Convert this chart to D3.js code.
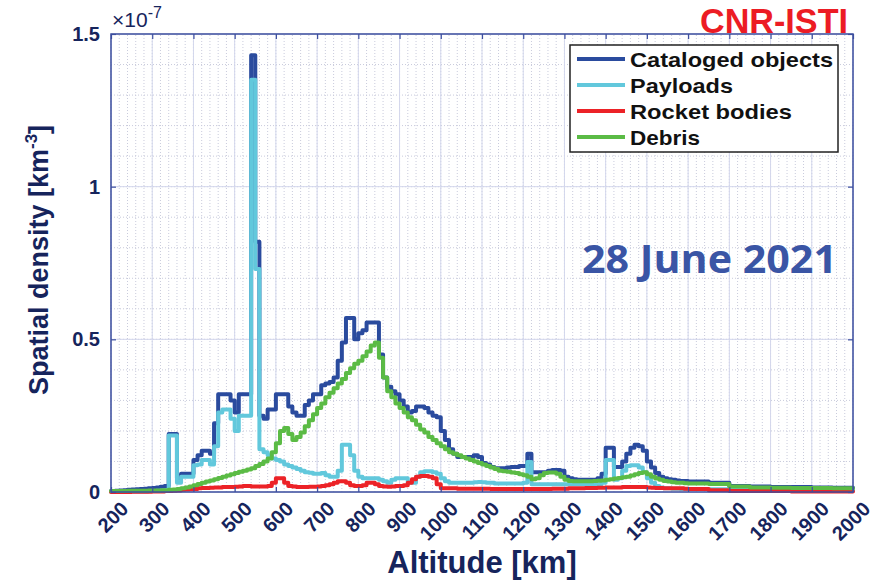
<!DOCTYPE html>
<html>
<head>
<meta charset="utf-8">
<script src="https://cdn.jsdelivr.net/npm/d3@7"></script>
<style>
body { margin: 0; background: #fff; }
svg { display: block; }
</style>
</head>
<body>
<div id="chart"></div>
<script>
// altitude bins [km] (left edge of each bin)
const altitude = [
  200, 210, 220, 230, 240, 250, 260, 270, 280, 290,
  300, 310, 320, 330, 340, 350, 360, 370, 380, 390,
  400, 410, 420, 430, 440, 450, 460, 470, 480, 490,
  500, 510, 520, 530, 540, 550, 560, 570, 580, 590,
  600, 610, 620, 630, 640, 650, 660, 670, 680, 690,
  700, 710, 720, 730, 740, 750, 760, 770, 780, 790,
  800, 810, 820, 830, 840, 850, 860, 870, 880, 890,
  900, 910, 920, 930, 940, 950, 960, 970, 980, 990,
  1000, 1010, 1020, 1030, 1040, 1050, 1060, 1070, 1080, 1090,
  1100, 1110, 1120, 1130, 1140, 1150, 1160, 1170, 1180, 1190,
  1200, 1210, 1220, 1230, 1240, 1250, 1260, 1270, 1280, 1290,
  1300, 1310, 1320, 1330, 1340, 1350, 1360, 1370, 1380, 1390,
  1400, 1410, 1420, 1430, 1440, 1450, 1460, 1470, 1480, 1490,
  1500, 1510, 1520, 1530, 1540, 1550, 1560, 1570, 1580, 1590,
  1600, 1650, 1700, 1750, 1800, 1850, 1900, 1950
];

// spatial density, units of 1e-7 km^-3
const cataloged = [
  0.003, 0.004, 0.005, 0.006, 0.007, 0.008, 0.009, 0.010, 0.011, 0.012,
  0.013, 0.015, 0.017, 0.020, 0.190, 0.190, 0.045, 0.060, 0.060, 0.060,
  0.105, 0.120, 0.135, 0.135, 0.125, 0.225, 0.320, 0.320, 0.320, 0.300,
  0.260, 0.320, 0.320, 0.320, 1.430, 0.820, 0.250, 0.240, 0.270, 0.270,
  0.320, 0.320, 0.320, 0.280, 0.260, 0.250, 0.250, 0.285, 0.300, 0.320,
  0.320, 0.350, 0.355, 0.360, 0.375, 0.430, 0.490, 0.570, 0.570, 0.500,
  0.520, 0.530, 0.555, 0.555, 0.555, 0.450, 0.375, 0.345, 0.330, 0.320,
  0.300, 0.280, 0.260, 0.265, 0.280, 0.280, 0.275, 0.260, 0.250, 0.245,
  0.200, 0.170, 0.140, 0.125, 0.115, 0.115, 0.115, 0.115, 0.120, 0.115,
  0.095, 0.090, 0.082, 0.078, 0.078, 0.078, 0.080, 0.082, 0.082, 0.085,
  0.085, 0.125, 0.065, 0.065, 0.065, 0.065, 0.070, 0.072, 0.072, 0.070,
  0.050, 0.045, 0.042, 0.040, 0.040, 0.040, 0.040, 0.040, 0.045, 0.060,
  0.145, 0.145, 0.082, 0.082, 0.100, 0.125, 0.145, 0.155, 0.150, 0.135,
  0.100, 0.080, 0.062, 0.050, 0.045, 0.042, 0.040, 0.038, 0.036, 0.036,
  0.034, 0.030, 0.020, 0.018, 0.016, 0.016, 0.015, 0.014
];

const payloads = [
  0.001, 0.001, 0.001, 0.001, 0.002, 0.002, 0.002, 0.002, 0.002, 0.003,
  0.003, 0.004, 0.005, 0.006, 0.185, 0.185, 0.030, 0.050, 0.050, 0.050,
  0.088, 0.090, 0.105, 0.105, 0.090, 0.150, 0.260, 0.270, 0.270, 0.240,
  0.200, 0.250, 0.250, 0.250, 1.350, 0.730, 0.140, 0.130, 0.120, 0.110,
  0.105, 0.100, 0.090, 0.085, 0.080, 0.075, 0.070, 0.065, 0.063, 0.060,
  0.060, 0.062, 0.055, 0.050, 0.050, 0.070, 0.155, 0.155, 0.120, 0.070,
  0.050, 0.045, 0.045, 0.045, 0.045, 0.040, 0.035, 0.030, 0.040, 0.045,
  0.045, 0.045, 0.030, 0.030, 0.050, 0.065, 0.068, 0.068, 0.065, 0.060,
  0.045, 0.035, 0.030, 0.030, 0.030, 0.030, 0.030, 0.030, 0.032, 0.033,
  0.032, 0.030, 0.030, 0.028, 0.028, 0.028, 0.028, 0.028, 0.028, 0.028,
  0.030, 0.098, 0.025, 0.025, 0.025, 0.025, 0.025, 0.025, 0.025, 0.025,
  0.025, 0.025, 0.025, 0.025, 0.025, 0.025, 0.025, 0.025, 0.025, 0.030,
  0.105, 0.105, 0.040, 0.045, 0.070, 0.085, 0.088, 0.088, 0.080, 0.065,
  0.045, 0.030, 0.020, 0.015, 0.012, 0.012, 0.011, 0.011, 0.010, 0.010,
  0.010, 0.009, 0.008, 0.007, 0.007, 0.006, 0.006, 0.006
];

const rocketBodies = [
  0.000, 0.000, 0.000, 0.000, 0.000, 0.001, 0.001, 0.001, 0.001, 0.001,
  0.002, 0.002, 0.002, 0.003, 0.003, 0.004, 0.005, 0.007, 0.008, 0.009,
  0.010, 0.012, 0.013, 0.013, 0.014, 0.015, 0.015, 0.016, 0.016, 0.016,
  0.017, 0.018, 0.020, 0.020, 0.018, 0.018, 0.018, 0.018, 0.020, 0.030,
  0.045, 0.045, 0.030, 0.020, 0.018, 0.016, 0.016, 0.016, 0.017, 0.017,
  0.018, 0.020, 0.022, 0.025, 0.030, 0.035, 0.035, 0.030, 0.022, 0.020,
  0.020, 0.022, 0.030, 0.030, 0.025, 0.020, 0.018, 0.017, 0.018, 0.020,
  0.020, 0.022, 0.030, 0.042, 0.050, 0.052, 0.052, 0.050, 0.045, 0.025,
  0.012, 0.012, 0.012, 0.012, 0.011, 0.011, 0.011, 0.011, 0.011, 0.011,
  0.011, 0.011, 0.010, 0.010, 0.010, 0.010, 0.010, 0.010, 0.010, 0.010,
  0.010, 0.010, 0.010, 0.010, 0.010, 0.010, 0.010, 0.011, 0.011, 0.011,
  0.011, 0.012, 0.012, 0.012, 0.012, 0.013, 0.013, 0.013, 0.014, 0.014,
  0.015, 0.015, 0.015, 0.015, 0.016, 0.016, 0.016, 0.016, 0.016, 0.016,
  0.015, 0.014, 0.013, 0.013, 0.012, 0.012, 0.012, 0.012, 0.012, 0.011,
  0.010, 0.006, 0.003, 0.003, 0.003, 0.002, 0.002, 0.002
];

const debris = [
  0.003, 0.003, 0.003, 0.003, 0.004, 0.004, 0.004, 0.004, 0.004, 0.005,
  0.005, 0.005, 0.006, 0.006, 0.007, 0.008, 0.010, 0.012, 0.015, 0.018,
  0.022, 0.026, 0.030, 0.034, 0.038, 0.042, 0.046, 0.050, 0.054, 0.058,
  0.062, 0.066, 0.070, 0.074, 0.078, 0.085, 0.092, 0.100, 0.110, 0.130,
  0.160, 0.200, 0.210, 0.190, 0.170, 0.180, 0.195, 0.215, 0.235, 0.255,
  0.275, 0.290, 0.310, 0.325, 0.340, 0.355, 0.370, 0.390, 0.405, 0.420,
  0.430, 0.445, 0.460, 0.480, 0.490, 0.440, 0.375, 0.330, 0.310, 0.290,
  0.275, 0.260, 0.245, 0.235, 0.220, 0.205, 0.195, 0.180, 0.170, 0.160,
  0.150, 0.140, 0.130, 0.125, 0.120, 0.115, 0.110, 0.105, 0.100, 0.095,
  0.090, 0.085, 0.080, 0.075, 0.070, 0.068, 0.066, 0.064, 0.062, 0.058,
  0.055, 0.050, 0.042, 0.045, 0.055, 0.062, 0.064, 0.064, 0.060, 0.050,
  0.040, 0.036, 0.035, 0.035, 0.035, 0.035, 0.035, 0.036, 0.037, 0.038,
  0.040, 0.042, 0.044, 0.046, 0.048, 0.050, 0.054, 0.058, 0.062, 0.065,
  0.058, 0.050, 0.044, 0.040, 0.036, 0.034, 0.032, 0.030, 0.030, 0.029,
  0.028, 0.026, 0.018, 0.015, 0.014, 0.013, 0.013, 0.012
];

const seriesNames = ["Cataloged objects", "Payloads", "Rocket bodies", "Debris"];
const seriesValues = [cataloged, payloads, rocketBodies, debris];
const seriesColors = ["#2a4b9e", "#62c8dc", "#ec2227", "#5bbb45"];

const xTicks = [200, 300, 400, 500, 600, 700, 800, 900, 1000, 1100, 1200,
  1300, 1400, 1500, 1600, 1700, 1800, 1900, 2000];
const yTicks = [0, 0.5, 1, 1.5];
const yTickLabels = ["0", "0.5", "1", "1.5"];

var width = 883;
var height = 582;
margin = ({top: 34, right: 30, bottom: 90, left: 111});

const navy = "#16245c";
const axisColor = "#3d4f9f";

const svg = d3.select("#chart").append("svg")
  .attr("width", width)
  .attr("height", height)
  .style("font-family", "'Liberation Sans', Arial, sans-serif");

x = d3.scaleLinear()
  .domain([200, 2000])
  .range([margin.left, width - margin.right]);

y = d3.scaleLinear()
  .domain([0, 1.5])
  .range([height - margin.bottom, margin.top]);

// grid: dotted minor lines, then solid major lines
const grid = svg.append("g");
grid.selectAll("line.minx")
  .data(d3.range(200, 2001, 20))
  .enter().append("line")
  .attr("x1", d => x(d)).attr("x2", d => x(d))
  .attr("y1", y(0)).attr("y2", y(1.5))
  .attr("stroke", "#c9cbdc").attr("stroke-dasharray", "1,2");
grid.selectAll("line.miny")
  .data(d3.range(1, 15).map(d => d / 10))
  .enter().append("line")
  .attr("x1", x(200)).attr("x2", x(2000))
  .attr("y1", d => y(d)).attr("y2", d => y(d))
  .attr("stroke", "#c9cbdc").attr("stroke-dasharray", "1,2");
grid.selectAll("line.majx")
  .data(xTicks)
  .enter().append("line")
  .attr("x1", d => x(d)).attr("x2", d => x(d))
  .attr("y1", y(0)).attr("y2", y(1.5))
  .attr("stroke", "#d3d7ec");
grid.selectAll("line.majy")
  .data(yTicks)
  .enter().append("line")
  .attr("x1", x(200)).attr("x2", x(2000))
  .attr("y1", d => y(d)).attr("y2", d => y(d))
  .attr("stroke", "#d3d7ec");

// series, drawn as stairs
const line = d3.line()
  .x(d => x(d.alt))
  .y(d => y(d.v))
  .curve(d3.curveStepAfter);

seriesValues.forEach(function(vals, i) {
  const pts = altitude.map((a, j) => ({alt: a, v: vals[j]}));
  pts.push({alt: 2000, v: vals[vals.length - 1]});
  svg.append("path")
    .datum(pts)
    .attr("fill", "none")
    .attr("stroke", seriesColors[i])
    .attr("stroke-width", 4)
    .attr("stroke-linejoin", "round")
    .attr("stroke-linecap", "round")
    .attr("d", line);
});

// axes (ticks point inward, box on)
xAxis = g => g
  .attr("transform", `translate(0,${y(0)})`)
  .call(d3.axisBottom(x).tickValues(xTicks).tickFormat(d3.format("d"))
    .tickSizeInner(-5).tickSizeOuter(0))
  .call(g => g.select(".domain").remove())
  .call(g => g.selectAll("text")
    .attr("x", 0).attr("y", 0).attr("dy", "0.72em")
    .attr("transform", "translate(8,8) rotate(-45)")
    .attr("text-anchor", "end"));

yAxis = g => g
  .attr("transform", `translate(${x(200)},0)`)
  .call(d3.axisLeft(y).tickValues(yTicks).tickFormat((d, i) => yTickLabels[i])
    .tickSizeInner(-5).tickSizeOuter(0).tickPadding(11))
  .call(g => g.select(".domain").remove());

const axes = [
  svg.append("g").call(xAxis),
  svg.append("g").call(yAxis),
  svg.append("g").attr("transform", `translate(0,${y(1.5)})`)
    .call(d3.axisTop(x).tickValues(xTicks).tickSizeInner(-5).tickSizeOuter(0).tickFormat(""))
    .call(g => g.select(".domain").remove()),
  svg.append("g").attr("transform", `translate(${x(2000)},0)`)
    .call(d3.axisRight(y).tickValues(yTicks).tickSizeInner(-5).tickSizeOuter(0).tickFormat(""))
    .call(g => g.select(".domain").remove())
];
axes.forEach(g => {
  g.selectAll("line").attr("stroke", axisColor).attr("stroke-width", 1.2);
  g.selectAll("text")
    .attr("fill", navy)
    .style("font-size", "20px")
    .style("font-weight", "bold")
    .style("font-family", "'Liberation Sans', Arial, sans-serif");
});

svg.append("rect")
  .attr("x", x(200)).attr("y", y(1.5))
  .attr("width", x(2000) - x(200)).attr("height", y(0) - y(1.5))
  .attr("fill", "none")
  .attr("stroke", axisColor)
  .attr("stroke-width", 1.5);

// exponent label
const expo = svg.append("text")
  .attr("x", x(200) + 1).attr("y", 27)
  .attr("fill", navy)
  .style("font-size", "21px");
expo.append("tspan").text("\u00d710");
expo.append("tspan").attr("dy", -9).style("font-size", "16px").text("-7");

// axis titles
svg.append("text")
  .attr("x", (x(200) + x(2000)) / 2).attr("y", 573)
  .attr("text-anchor", "middle")
  .attr("fill", navy)
  .style("font-size", "31px").style("font-weight", "bold")
  .text("Altitude [km]");

const yTitle = svg.append("text")
  .attr("transform", "translate(48,260) rotate(-90)")
  .attr("text-anchor", "middle")
  .attr("fill", navy)
  .style("font-size", "27px").style("font-weight", "bold");
yTitle.append("tspan").text("Spatial density [km");
yTitle.append("tspan").attr("dy", -11).style("font-size", "17px").text("-3");
yTitle.append("tspan").attr("dy", 11).text("]");

// legend
const legendWidths = [203, 103, 162, 70];
const legend = svg.append("g");
legend.append("rect")
  .attr("x", 570).attr("y", 45).attr("width", 268).attr("height", 107)
  .attr("fill", "#fff").attr("stroke", "#222").attr("stroke-width", 1.5);
seriesNames.forEach(function(name, i) {
  const ly = 59 + i * 26;
  legend.append("line")
    .attr("x1", 577).attr("x2", 625).attr("y1", ly).attr("y2", ly)
    .attr("stroke", seriesColors[i]).attr("stroke-width", 4);
  legend.append("text")
    .attr("x", 630).attr("y", ly).attr("dy", "0.36em")
    .attr("fill", "#111")
    .attr("textLength", legendWidths[i]).attr("lengthAdjust", "spacingAndGlyphs")
    .style("font-size", "21px").style("font-weight", "bold")
    .text(name);
});

// annotations
svg.append("text")
  .attr("x", 848).attr("y", 33)
  .attr("text-anchor", "end")
  .attr("fill", "#ec1c24")
  .style("font-family", "'Liberation Sans Narrow', 'Liberation Sans', sans-serif")
  .style("font-size", "35px").style("font-weight", "bold")
  .attr("textLength", 148).attr("lengthAdjust", "spacingAndGlyphs")
  .text("CNR-ISTI");

svg.append("text")
  .attr("x", 837).attr("y", 273)
  .attr("text-anchor", "end")
  .attr("fill", "#3a55a5")
  .style("font-family", "'Open Sans', sans-serif")
  .style("font-size", "39px").style("font-weight", "bold")
  .attr("textLength", 255).attr("lengthAdjust", "spacingAndGlyphs")
  .text("28 June 2021");
</script>
</body>
</html>
